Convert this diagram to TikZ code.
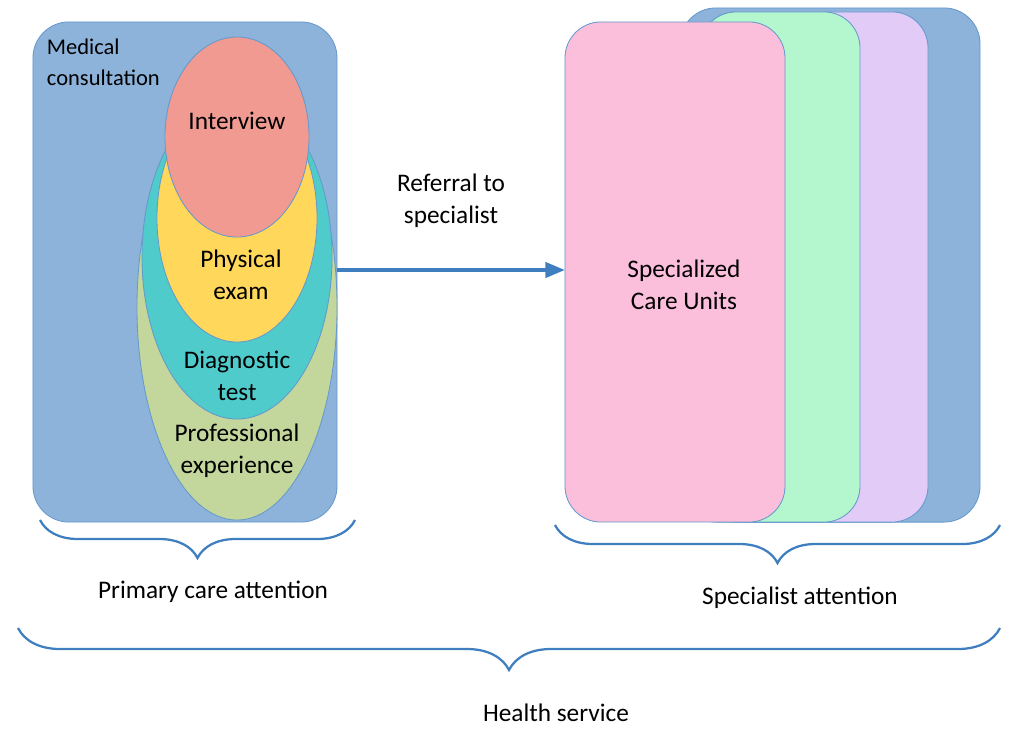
\documentclass[tikz,border=0pt]{standalone}
\usepackage{fontspec}
\setmainfont{Carlito}
\usetikzlibrary{shapes.geometric, arrows, positioning, calc, decorations.pathreplacing}
\definecolor{boxblue}{HTML}{8DB3DA}
\definecolor{lineblue}{HTML}{3F7FBF}
\definecolor{expgreen}{HTML}{C3D69B}
\definecolor{diagteal}{HTML}{4FCBCB}
\definecolor{examyellow}{HTML}{FFD75A}
\definecolor{intred}{HTML}{F09A92}
\definecolor{unitpink}{HTML}{FBBFDB}
\definecolor{unitgreen}{HTML}{B4F7CE}
\definecolor{unitpurple}{HTML}{E3CBF8}
\tikzstyle{panel} = [rectangle, rounded corners=0.9cm, draw=lineblue!80, line width=0.6pt]
\tikzstyle{zone} = [ellipse, draw=lineblue!80, line width=0.6pt]
\tikzstyle{label} = [align=center, font=\fontsize{18}{23}\selectfont]
\tikzstyle{brace} = [decorate, decoration={brace, mirror, amplitude=0.95cm}, draw=lineblue, line width=1.6pt]
\tikzstyle{arrow} = [line width=2.2pt, draw=lineblue, -triangle 45]

\begin{document}
\begin{tikzpicture}[x=0.025cm, y=-0.025cm]
    \useasboundingbox (0,0) rectangle (1024,732);
    % primary care
    \node (consult) [panel, fill=boxblue, minimum width=7.6cm, minimum height=12.5cm] at (185,272) {};
    \node (experience) [zone, fill=expgreen, minimum width=5cm, minimum height=10.65cm] at (237,307) {};
    \node (diagnostic) [zone, fill=diagteal, minimum width=4.75cm, minimum height=8.1cm] at (237,257) {};
    \node (exam) [zone, fill=examyellow, minimum width=4cm, minimum height=6.2cm] at (237,218) {};
    \node (interview) [zone, fill=intred, minimum width=3.6cm, minimum height=5cm] at (237,137) {};
    \node [label] at (237,121) {Interview};
    \node [label] at (241,275) {Physical\\exam};
    \node [label] at (237,376) {Diagnostic\\test};
    \node [label] at (237,451) {Professional\\experience};
    \node [align=left, anchor=north west, font=\fontsize{16}{22}\selectfont] at (42,34) {Medical\\consultation};
    % specialist units
    \node (back) [panel, fill=boxblue, minimum width=7.5cm, minimum height=12.85cm] at (830,265) {};
    \node (purple) [panel, fill=unitpurple, minimum width=5.7cm, minimum height=12.75cm] at (814,267) {};
    \node (green) [panel, fill=unitgreen, minimum width=4cm, minimum height=12.75cm] at (780,267) {};
    \node (units) [panel, fill=unitpink, minimum width=5.5cm, minimum height=12.5cm] at (675,272) {};
    \node [label] at (684,285) {Specialized\\Care Units};
    % referral
    \draw [arrow] (consult.east |- 0,270) -- node[label, above=0.9cm] {Referral to\\specialist} (units.west |- 0,270);
    % braces
    \coordinate (p1) at (40,520);
    \coordinate (p2) at (355,520);
    \coordinate (s1) at (555,525);
    \coordinate (s2) at (1000,525);
    \coordinate (h1) at (18,628);
    \coordinate (h2) at (1000,628);
    \draw [brace] (p1) -- (p2);
    \draw [brace] (s1) -- (s2);
    \draw [brace, decoration={amplitude=1.05cm}] (h1) -- (h2);
    \node [label] at (213,592) {Primary care attention};
    \node [label] at (800,598) {Specialist attention};
    \node [label] at (556,713) {Health service};
\end{tikzpicture}
\end{document}
